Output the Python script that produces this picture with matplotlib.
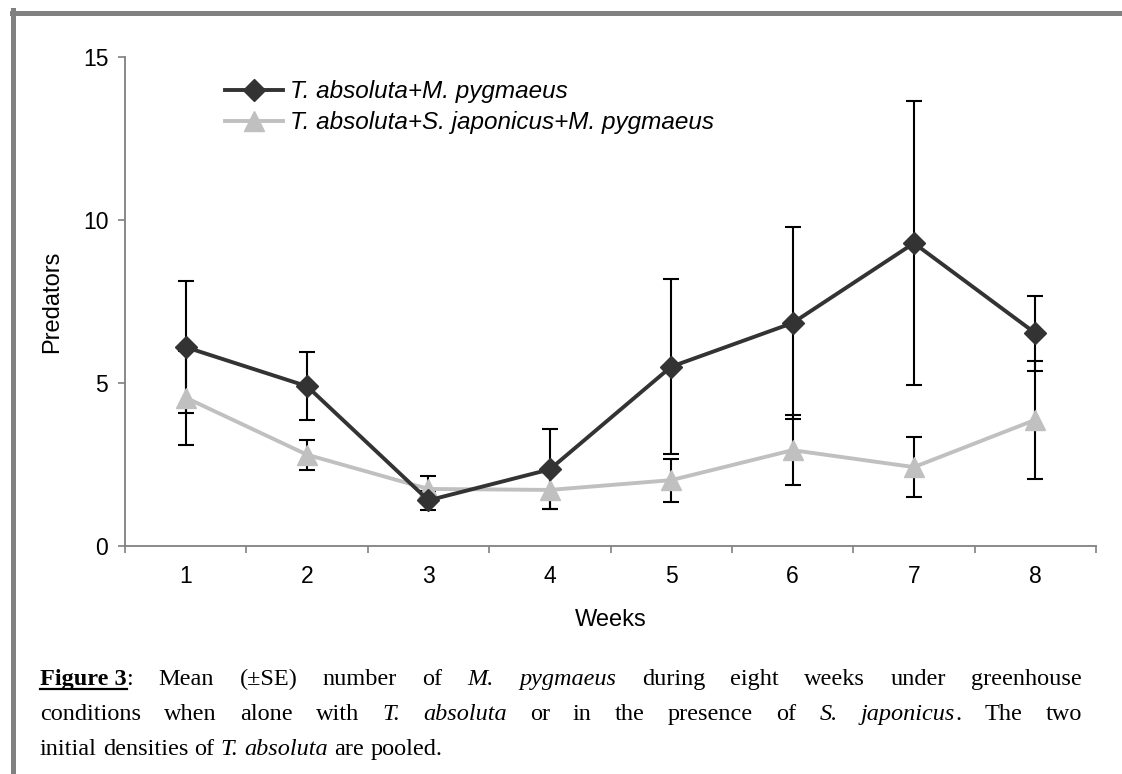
import matplotlib
matplotlib.use('Agg')
import matplotlib.pyplot as plt
from matplotlib.lines import Line2D

weeks = [1, 2, 3, 4, 5, 6, 7, 8]
mp_mean = [6.1, 4.9, 1.4, 2.35, 5.5, 6.84, 9.29, 6.53]      # T. absoluta + M. pygmaeus
mp_se = [2.03, 1.05, 0.3, 1.23, 2.68, 2.95, 4.36, 1.15]
sj_mean = [4.55, 2.8, 1.75, 1.72, 2.02, 2.94, 2.42, 3.87]   # T. absoluta + S. japonicus + M. pygmaeus
sj_se = [1.44, 0.46, 0.4, 0.6, 0.66, 1.07, 0.92, 1.81]
y_ticks = [0, 5, 10, 15]
labels = ['T. absoluta+M. pygmaeus', 'T. absoluta+S. japonicus+M. pygmaeus']

dark = '#333333'
light = '#c0c0c0'
axis_grey = '#808080'
sans = 'Liberation Sans'

fig = plt.figure(figsize=(11.22, 7.74), dpi=100)
ax = fig.add_axes([125/1122, 1 - 546/774, 971/1122, 489/774])

# error bars first, lines + markers on top
for m, se in [(mp_mean, mp_se), (sj_mean, sj_se)]:
    ax.errorbar(weeks, m, yerr=se, fmt='none', ecolor='black',
                elinewidth=1.5, capsize=5.8, capthick=1.5, zorder=2)
ax.plot(weeks, sj_mean, color=light, lw=2.8, marker='^', ms=14,
        markeredgecolor=light, zorder=3)
ax.plot(weeks, mp_mean, color=dark, lw=2.8, marker='D', ms=11,
        markeredgecolor=dark, zorder=4)

ax.set_xlim(0.5, 8.5)
ax.set_ylim(0, 15)
ax.set_yticks(y_ticks)
ax.set_xticks(weeks)
ax.set_xticks([w + 0.5 for w in [0] + weeks], minor=True)
ax.tick_params(axis='x', which='major', length=0, pad=14)
ax.tick_params(axis='x', which='minor', length=5, width=1.2, color=axis_grey, direction='out')
ax.tick_params(axis='y', length=5, width=1.2, color=axis_grey, direction='out', pad=7)
for lab in ax.get_xticklabels() + ax.get_yticklabels():
    lab.set_fontfamily(sans)
    lab.set_fontsize(16.5)

for s in ['top', 'right']:
    ax.spines[s].set_visible(False)
for s in ['left', 'bottom']:
    ax.spines[s].set_color(axis_grey)
    ax.spines[s].set_linewidth(1.3)

ax.set_xlabel('Weeks', fontfamily=sans, fontsize=17, labelpad=15)
ax.set_ylabel('Predators', fontfamily=sans, fontsize=17, labelpad=14)

handles = [
    Line2D([], [], color=dark, lw=2.8, marker='D', ms=11),
    Line2D([], [], color=light, lw=2.8, marker='^', ms=14),
]
ax.legend(handles, labels, loc='upper left', bbox_to_anchor=(0.08, 0.997),
          frameon=False, handlelength=2.4, handletextpad=0.3, labelspacing=0.33,
          prop={'family': sans, 'style': 'italic', 'size': 17.5})

# grey frame lines (top and left edges of the figure box)
fig.add_artist(Line2D([12/1122, 1], [1 - 12.5/774] * 2, color=axis_grey, lw=3.6))
fig.add_artist(Line2D([12.5/1122] * 2, [0, 1 - 10/774], color=axis_grey, lw=3.6))

# caption, placed word by word so lines 1 and 2 can be justified
caption = [
    [('Figure 3', 'bold'), (':', 'normal'), (' Mean (\u00b1SE) number of ', 'normal'),
     ('M. pygmaeus', 'italic'), (' during eight weeks under greenhouse', 'normal')],
    [('conditions when alone with ', 'normal'), ('T. absoluta', 'italic'),
     (' or in the presence of ', 'normal'), ('S. japonicus', 'italic'), ('. The two', 'normal')],
    [('initial densities of ', 'normal'), ('T. absoluta', 'italic'), (' are pooled.', 'normal')],
]
baselines = [685, 720, 755]
x_left, x_right = 40, 1082
cap_size = 17.5

renderer = fig.canvas.get_renderer()


def txt(x, y, s, style):
    kw = dict(fontfamily='Liberation Serif', fontsize=cap_size, va='baseline', ha='left',
              transform=None)
    if style == 'bold':
        kw['fontweight'] = 'bold'
    elif style == 'italic':
        kw['fontstyle'] = 'italic'
    return fig.text(x, 774 - y, s, **kw)


def width_of(s, style):
    t = txt(0, 0, s, style)
    w = t.get_window_extent(renderer).width
    t.remove()
    return w


space = width_of('a b', 'normal') - width_of('ab', 'normal')

for i, (line, yb) in enumerate(zip(caption, baselines)):
    # tokens, None marks a breakable space; the bold label stays in one piece
    words = []
    for seg, style in line:
        parts = [seg] if style == 'bold' else seg.split(' ')
        for j, p in enumerate(parts):
            if j > 0:
                words.append(None)
            if p:
                words.append((p, style))
    groups = [[]]
    for w in words:
        if w is None:
            if groups[-1]:
                groups.append([])
        else:
            groups[-1].append(w)
    groups = [g for g in groups if g]
    widths = [[width_of(p, st) for p, st in g] for g in groups]
    total = sum(sum(ws) for ws in widths)
    if i < 2:
        gap = (x_right - x_left - total) / (len(groups) - 1)
    else:
        gap = space
    x = x_left
    for g, ws in zip(groups, widths):
        for (p, st), w in zip(g, ws):
            txt(x, yb, p, st)
            if st == 'bold':
                fig.add_artist(Line2D([x / 1122, (x + w) / 1122], [1 - (yb + 4) / 774] * 2,
                                      color='black', lw=1.6))
            x += w
        x += gap

fig.savefig('out.png', dpi=100)
